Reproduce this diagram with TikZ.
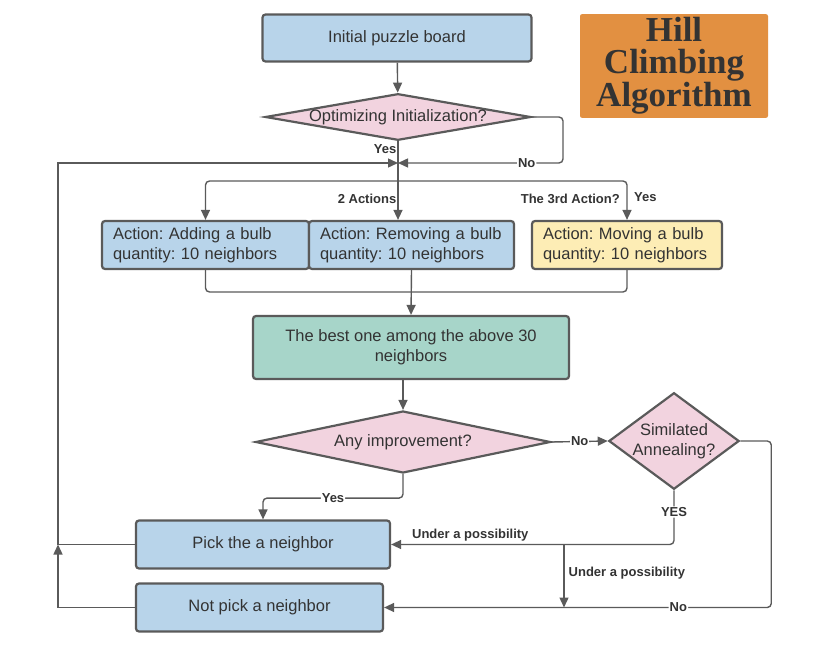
\documentclass[tikz,border=0pt]{standalone}
\usepackage{fontspec}
\setmainfont{Liberation Sans}
\newfontfamily\titlefont{Liberation Serif}
\usetikzlibrary{shapes.geometric,arrows.meta}
\frenchspacing

\definecolor{linegray}{HTML}{5A5A5A}
\definecolor{textgray}{HTML}{333333}
\definecolor{boxblue}{HTML}{B8D4EA}
\definecolor{boxyellow}{HTML}{FDEDB5}
\definecolor{boxteal}{HTML}{A7D5C9}
\definecolor{diapink}{HTML}{F2D3DF}
\definecolor{titleorange}{HTML}{E29041}

\tikzset{
  box/.style={draw=linegray, line width=2.2pt, rounded corners=3pt, inner sep=0pt,
    text=textgray, align=center, font=\fontsize{16.5}{20}\selectfont},
  actbox/.style={box, align=left, inner xsep=11pt},
  decision/.style={diamond, draw=linegray, line width=2.2pt, fill=diapink, inner sep=0pt,
    text=textgray, align=center, font=\fontsize{16.5}{20}\selectfont},
  conn/.style={draw=linegray, line width=1.4pt},
  arr/.style={conn, -{Triangle[length=10pt,width=9pt]}},
  lbl/.style={font=\bfseries\fontsize{13}{15}\selectfont, text=textgray, inner sep=1pt},
  onlbl/.style={lbl, fill=white}
}

\begin{document}
\begin{tikzpicture}[x=1pt,y=-1pt]
\useasboundingbox (0,0) rectangle (830,652);

% title
\node[fill=titleorange, rounded corners=2pt, minimum width=188pt, minimum height=102pt,
  text=textgray, align=center, font=\titlefont\bfseries\fontsize{35}{32}\selectfont]
  (title) at (674,66) {Hill\\Climbing\\Algorithm};

% boxes
\node[box, fill=boxblue, minimum width=269pt, minimum height=47pt] (init) at (397,38) {Initial puzzle board};
\node[decision, aspect=5.7, minimum width=264pt, minimum height=46pt] (opt) at (398,117) {Optimizing Initialization?};

\node[actbox, fill=boxblue, text width=185pt, minimum height=48pt] (add) at (205.5,245) {Action: Adding a bulb\\quantity: 10 neighbors};
\node[actbox, fill=boxblue, text width=183pt, minimum height=48pt] (remove) at (411.5,245) {Action: Removing a bulb\\quantity: 10 neighbors};
\node[actbox, fill=boxyellow, text width=168pt, minimum height=48pt] (move) at (627,245) {Action: Moving a bulb\\quantity: 10 neighbors};

\node[box, fill=boxteal, minimum width=316pt, minimum height=63pt] (best) at (411,347.5) {The best one among the above 30\\neighbors};
\node[decision, aspect=4.8, minimum width=295pt, minimum height=62pt] (improve) at (403,442) {Any improvement?};
\node[decision, aspect=1.35, minimum width=126pt, minimum height=93pt] (sa) at (674,441) {Similated\\Annealing?};

\node[box, fill=boxblue, minimum width=254pt, minimum height=48pt] (pick) at (263,544.5) {Pick the a neighbor};
\node[box, fill=boxblue, minimum width=247pt, minimum height=48pt] (notpick) at (259.5,607.5) {Not pick a neighbor};

% helper points
\coordinate (jn) at (398,163);
\coordinate (split) at (398,181);
\coordinate (noR) at (563,163);
\coordinate (lc) at (58,544.5);
\coordinate (br) at (564,544.5);

% connectors
\draw[arr] (init) -- (opt);
\draw[conn] (opt.south) -- node[lbl, pos=0.2, anchor=east]{Yes} (split);
\draw[arr, rounded corners=4pt] (opt.east) -| (noR) -- node[onlbl, pos=0.22]{No} (jn);
\draw[arr] (pick.west) -- (lc) |- (jn);
\draw[arr] (notpick.west) -| (lc);

\draw[arr, rounded corners=4pt] (split) -| (add.north);
\draw[arr] (split) -- node[lbl, anchor=east, pos=0.45]{2 Actions} (split |- remove.north);
\draw[arr, rounded corners=4pt] (split) -| (move.north);
\node[lbl, anchor=east] (third) at (621,199) {The 3rd Action?};
\node[lbl, anchor=west] (thirdyes) at (633,197) {Yes};

\draw[conn, rounded corners=4pt] (add.south) |- (remove.south |- 0,292) -| (move.south);
\draw[arr] (remove.south) -- (best.north);
\draw[arr] (improve.north |- best.south) -- (improve.north);

\draw[arr] (improve.east) -- node[onlbl]{No} (sa.west);
\draw[arr, rounded corners=4pt] (improve.south) -- ++(0,24) -- node[onlbl, pos=0.5]{Yes} ++(-140,0) -- (pick.north);

\draw[arr, rounded corners=4pt] (sa.south) |- node[onlbl, pos=0.2]{YES} node[lbl, pos=0.86, above=2pt]{Under a possibility} (pick.east);
\draw[arr] (br) -- node[lbl, right=3pt, pos=0.45]{Under a possibility} (br |- notpick.east);
\draw[arr, rounded corners=4pt] (sa.east) -- ++(31,0) |- node[onlbl, pos=0.62]{No} (notpick.east);
\end{tikzpicture}
\end{document}
